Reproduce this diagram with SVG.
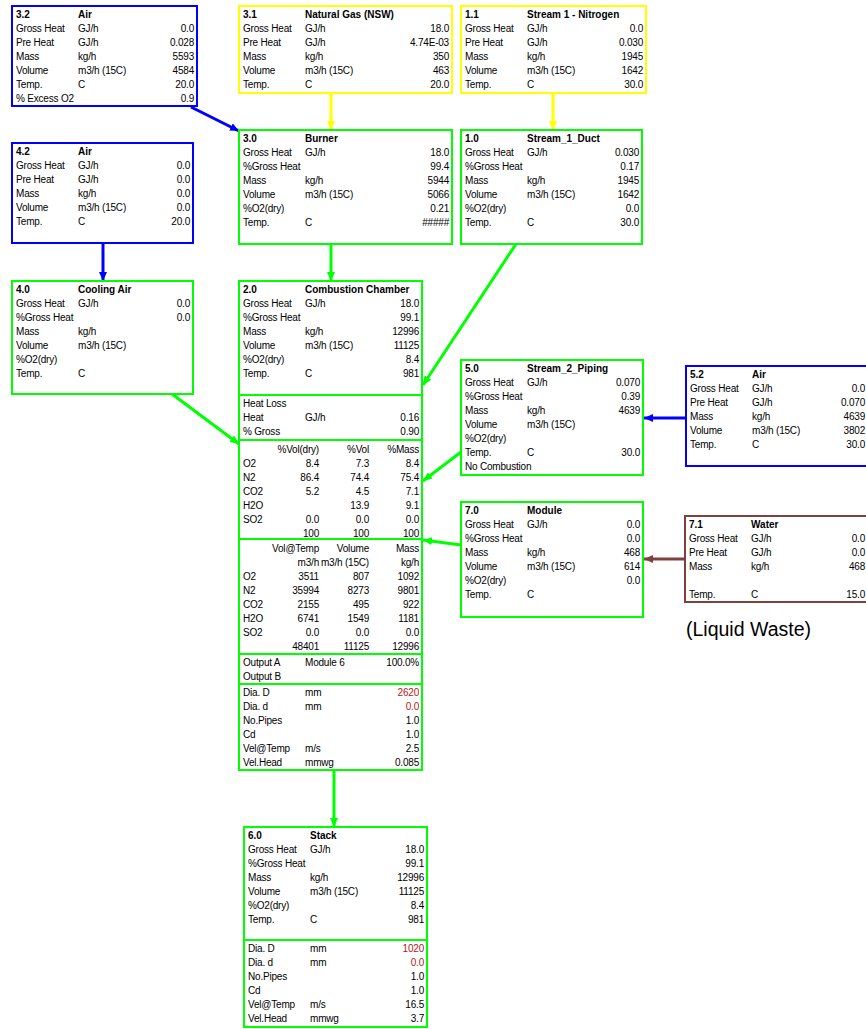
<svg xmlns="http://www.w3.org/2000/svg" width="866" height="1029" viewBox="0 0 866 1029">
<style>
text{font-family:"Liberation Sans",Arial,sans-serif;font-size:10px;fill:#000;letter-spacing:-0.2px}
.h{font-weight:bold;letter-spacing:0}
.e{text-anchor:end}
.rd{fill:#b02020}
.bx{fill:#fff;stroke-width:2}
.g{stroke:#00ff00}.bl{stroke:#0000ff}.y{stroke:#ffff00}.br{stroke:#804040}
.dv{stroke:#00ff00;stroke-width:2}
.c{fill:none;stroke-width:3}
.lw{font-size:19.5px;letter-spacing:0}
</style>
<defs>
<marker id="ag" markerWidth="9" markerHeight="8" refX="9" refY="4" orient="auto" markerUnits="userSpaceOnUse"><path d="M0,0 L9,4 L0,8 z" fill="#00ff00"/></marker>
<marker id="ab" markerWidth="9" markerHeight="8" refX="9" refY="4" orient="auto" markerUnits="userSpaceOnUse"><path d="M0,0 L9,4 L0,8 z" fill="#0000ff"/></marker>
<marker id="ay" markerWidth="9" markerHeight="8" refX="9" refY="4" orient="auto" markerUnits="userSpaceOnUse"><path d="M0,0 L9,4 L0,8 z" fill="#ffff00"/></marker>
<marker id="ar" markerWidth="9" markerHeight="8" refX="9" refY="4" orient="auto" markerUnits="userSpaceOnUse"><path d="M0,0 L9,4 L0,8 z" fill="#804040"/></marker>
</defs>
<rect width="866" height="1029" fill="#fff"/>

<g id="connectors">
<line class="c" stroke="#0000ff" x1="191" y1="107" x2="239" y2="131" marker-end="url(#ab)"/>
<line class="c" stroke="#ffff00" x1="331" y1="93" x2="331" y2="130" marker-end="url(#ay)"/>
<line class="c" stroke="#ffff00" x1="553" y1="93" x2="553" y2="130" marker-end="url(#ay)"/>
<line class="c" stroke="#0000ff" x1="103" y1="243" x2="103" y2="281" marker-end="url(#ab)"/>
<line class="c" stroke="#00ff00" x1="331" y1="244" x2="331" y2="281" marker-end="url(#ag)"/>
<line class="c" stroke="#00ff00" x1="516" y1="244" x2="423" y2="385" marker-end="url(#ag)"/>
<line class="c" stroke="#00ff00" x1="172" y1="394" x2="239" y2="444" marker-end="url(#ag)"/>
<line class="c" stroke="#00ff00" x1="461" y1="452" x2="423" y2="481" marker-end="url(#ag)"/>
<line class="c" stroke="#00ff00" x1="461" y1="545" x2="423" y2="540" marker-end="url(#ag)"/>
<line class="c" stroke="#0000ff" x1="686" y1="418" x2="644" y2="418" marker-end="url(#ab)"/>
<line class="c" stroke="#804040" x1="685" y1="559" x2="644" y2="559" marker-end="url(#ar)"/>
<line class="c" stroke="#00ff00" x1="334" y1="770" x2="334" y2="827" marker-end="url(#ag)"/>
</g>

<g id="n3_2">
<rect class="bx bl" x="12" y="6" width="185" height="100"/>
<text class="h" x="16" y="18">3.2</text><text class="h" x="78" y="18">Air</text>
<text x="16" y="32">Gross Heat</text><text x="78" y="32">GJ/h</text><text class="e" x="194" y="32">0.0</text>
<text x="16" y="46">Pre Heat</text><text x="78" y="46">GJ/h</text><text class="e" x="194" y="46">0.028</text>
<text x="16" y="60">Mass</text><text x="78" y="60">kg/h</text><text class="e" x="194" y="60">5593</text>
<text x="16" y="74">Volume</text><text x="78" y="74">m3/h (15C)</text><text class="e" x="194" y="74">4584</text>
<text x="16" y="88">Temp.</text><text x="78" y="88">C</text><text class="e" x="194" y="88">20.0</text>
<text x="16" y="102">% Excess O2</text><text class="e" x="194" y="102">0.9</text>
</g>

<g id="n3_1">
<rect class="bx y" x="239" y="6" width="213" height="87"/>
<text class="h" x="243" y="18">3.1</text><text class="h" x="305" y="18">Natural Gas (NSW)</text>
<text x="243" y="32">Gross Heat</text><text x="305" y="32">GJ/h</text><text class="e" x="449" y="32">18.0</text>
<text x="243" y="46">Pre Heat</text><text x="305" y="46">GJ/h</text><text class="e" x="449" y="46">4.74E-03</text>
<text x="243" y="60">Mass</text><text x="305" y="60">kg/h</text><text class="e" x="449" y="60">350</text>
<text x="243" y="74">Volume</text><text x="305" y="74">m3/h (15C)</text><text class="e" x="449" y="74">463</text>
<text x="243" y="88">Temp.</text><text x="305" y="88">C</text><text class="e" x="449" y="88">20.0</text>
</g>

<g id="n1_1">
<rect class="bx y" x="461" y="6" width="185" height="87"/>
<text class="h" x="465" y="18">1.1</text><text class="h" x="527" y="18">Stream 1 - Nitrogen</text>
<text x="465" y="32">Gross Heat</text><text x="527" y="32">GJ/h</text><text class="e" x="643" y="32">0.0</text>
<text x="465" y="46">Pre Heat</text><text x="527" y="46">GJ/h</text><text class="e" x="643" y="46">0.030</text>
<text x="465" y="60">Mass</text><text x="527" y="60">kg/h</text><text class="e" x="643" y="60">1945</text>
<text x="465" y="74">Volume</text><text x="527" y="74">m3/h (15C)</text><text class="e" x="643" y="74">1642</text>
<text x="465" y="88">Temp.</text><text x="527" y="88">C</text><text class="e" x="643" y="88">30.0</text>
</g>

<g id="n4_2">
<rect class="bx bl" x="12" y="143" width="181" height="100"/>
<text class="h" x="16" y="155">4.2</text><text class="h" x="78" y="155">Air</text>
<text x="16" y="169">Gross Heat</text><text x="78" y="169">GJ/h</text><text class="e" x="190" y="169">0.0</text>
<text x="16" y="183">Pre Heat</text><text x="78" y="183">GJ/h</text><text class="e" x="190" y="183">0.0</text>
<text x="16" y="197">Mass</text><text x="78" y="197">kg/h</text><text class="e" x="190" y="197">0.0</text>
<text x="16" y="211">Volume</text><text x="78" y="211">m3/h (15C)</text><text class="e" x="190" y="211">0.0</text>
<text x="16" y="225">Temp.</text><text x="78" y="225">C</text><text class="e" x="190" y="225">20.0</text>
</g>

<g id="n3_0">
<rect class="bx g" x="239" y="130" width="213" height="114"/>
<text class="h" x="243" y="142">3.0</text><text class="h" x="305" y="142">Burner</text>
<text x="243" y="156">Gross Heat</text><text x="305" y="156">GJ/h</text><text class="e" x="449" y="156">18.0</text>
<text x="243" y="170">%Gross Heat</text><text class="e" x="449" y="170">99.4</text>
<text x="243" y="184">Mass</text><text x="305" y="184">kg/h</text><text class="e" x="449" y="184">5944</text>
<text x="243" y="198">Volume</text><text x="305" y="198">m3/h (15C)</text><text class="e" x="449" y="198">5066</text>
<text x="243" y="212">%O2(dry)</text><text class="e" x="449" y="212">0.21</text>
<text x="243" y="226">Temp.</text><text x="305" y="226">C</text><text class="e" x="449" y="226">#####</text>
</g>

<g id="n1_0">
<rect class="bx g" x="461" y="130" width="181" height="114"/>
<text class="h" x="465" y="142">1.0</text><text class="h" x="527" y="142">Stream_1_Duct</text>
<text x="465" y="156">Gross Heat</text><text x="527" y="156">GJ/h</text><text class="e" x="639" y="156">0.030</text>
<text x="465" y="170">%Gross Heat</text><text class="e" x="639" y="170">0.17</text>
<text x="465" y="184">Mass</text><text x="527" y="184">kg/h</text><text class="e" x="639" y="184">1945</text>
<text x="465" y="198">Volume</text><text x="527" y="198">m3/h (15C)</text><text class="e" x="639" y="198">1642</text>
<text x="465" y="212">%O2(dry)</text><text class="e" x="639" y="212">0.0</text>
<text x="465" y="226">Temp.</text><text x="527" y="226">C</text><text class="e" x="639" y="226">30.0</text>
</g>

<g id="n4_0">
<rect class="bx g" x="12" y="281" width="181" height="113"/>
<text class="h" x="16" y="293">4.0</text><text class="h" x="78" y="293">Cooling Air</text>
<text x="16" y="307">Gross Heat</text><text x="78" y="307">GJ/h</text><text class="e" x="190" y="307">0.0</text>
<text x="16" y="321">%Gross Heat</text><text class="e" x="190" y="321">0.0</text>
<text x="16" y="335">Mass</text><text x="78" y="335">kg/h</text>
<text x="16" y="349">Volume</text><text x="78" y="349">m3/h (15C)</text>
<text x="16" y="363">%O2(dry)</text>
<text x="16" y="377">Temp.</text><text x="78" y="377">C</text>
</g>

<g id="n2_0">
<rect class="bx g" x="239" y="281" width="183" height="489"/>
<line class="dv" x1="239" y1="395" x2="422" y2="395"/>
<line class="dv" x1="239" y1="440" x2="422" y2="440"/>
<line class="dv" x1="239" y1="539" x2="422" y2="539"/>
<line class="dv" x1="239" y1="654" x2="422" y2="654"/>
<line class="dv" x1="239" y1="684" x2="422" y2="684"/>
<text class="h" x="243" y="293">2.0</text><text class="h" x="305" y="293">Combustion Chamber</text>
<text x="243" y="307">Gross Heat</text><text x="305" y="307">GJ/h</text><text class="e" x="419" y="307">18.0</text>
<text x="243" y="321">%Gross Heat</text><text class="e" x="419" y="321">99.1</text>
<text x="243" y="335">Mass</text><text x="305" y="335">kg/h</text><text class="e" x="419" y="335">12996</text>
<text x="243" y="349">Volume</text><text x="305" y="349">m3/h (15C)</text><text class="e" x="419" y="349">11125</text>
<text x="243" y="363">%O2(dry)</text><text class="e" x="419" y="363">8.4</text>
<text x="243" y="377">Temp.</text><text x="305" y="377">C</text><text class="e" x="419" y="377">981</text>
<text x="243" y="407">Heat Loss</text>
<text x="243" y="421">Heat</text><text x="305" y="421">GJ/h</text><text class="e" x="419" y="421">0.16</text>
<text x="243" y="435">% Gross</text><text class="e" x="419" y="435">0.90</text>
<text class="e" x="319" y="453">%Vol(dry)</text><text class="e" x="369" y="453">%Vol</text><text class="e" x="419" y="453">%Mass</text>
<text x="243" y="467">O2</text><text class="e" x="319" y="467">8.4</text><text class="e" x="369" y="467">7.3</text><text class="e" x="419" y="467">8.4</text>
<text x="243" y="481">N2</text><text class="e" x="319" y="481">86.4</text><text class="e" x="369" y="481">74.4</text><text class="e" x="419" y="481">75.4</text>
<text x="243" y="495">CO2</text><text class="e" x="319" y="495">5.2</text><text class="e" x="369" y="495">4.5</text><text class="e" x="419" y="495">7.1</text>
<text x="243" y="509">H2O</text><text class="e" x="369" y="509">13.9</text><text class="e" x="419" y="509">9.1</text>
<text x="243" y="523">SO2</text><text class="e" x="319" y="523">0.0</text><text class="e" x="369" y="523">0.0</text><text class="e" x="419" y="523">0.0</text>
<text class="e" x="319" y="537">100</text><text class="e" x="369" y="537">100</text><text class="e" x="419" y="537">100</text>
<text class="e" x="319" y="552">Vol@Temp</text><text class="e" x="369" y="552">Volume</text><text class="e" x="419" y="552">Mass</text>
<text class="e" x="319" y="566">m3/h</text><text class="e" x="369" y="566">m3/h (15C)</text><text class="e" x="419" y="566">kg/h</text>
<text x="243" y="580">O2</text><text class="e" x="319" y="580">3511</text><text class="e" x="369" y="580">807</text><text class="e" x="419" y="580">1092</text>
<text x="243" y="594">N2</text><text class="e" x="319" y="594">35994</text><text class="e" x="369" y="594">8273</text><text class="e" x="419" y="594">9801</text>
<text x="243" y="608">CO2</text><text class="e" x="319" y="608">2155</text><text class="e" x="369" y="608">495</text><text class="e" x="419" y="608">922</text>
<text x="243" y="622">H2O</text><text class="e" x="319" y="622">6741</text><text class="e" x="369" y="622">1549</text><text class="e" x="419" y="622">1181</text>
<text x="243" y="636">SO2</text><text class="e" x="319" y="636">0.0</text><text class="e" x="369" y="636">0.0</text><text class="e" x="419" y="636">0.0</text>
<text class="e" x="319" y="650">48401</text><text class="e" x="369" y="650">11125</text><text class="e" x="419" y="650">12996</text>
<text x="243" y="666">Output A</text><text x="305" y="666">Module 6</text><text class="e" x="419" y="666">100.0%</text>
<text x="243" y="680">Output B</text>
<text x="243" y="696">Dia. D</text><text x="305" y="696">mm</text><text class="e rd" x="419" y="696">2620</text>
<text x="243" y="710">Dia. d</text><text x="305" y="710">mm</text><text class="e rd" x="419" y="710">0.0</text>
<text x="243" y="724">No.Pipes</text><text class="e" x="419" y="724">1.0</text>
<text x="243" y="738">Cd</text><text class="e" x="419" y="738">1.0</text>
<text x="243" y="752">Vel@Temp</text><text x="305" y="752">m/s</text><text class="e" x="419" y="752">2.5</text>
<text x="243" y="766">Vel.Head</text><text x="305" y="766">mmwg</text><text class="e" x="419" y="766">0.085</text>
</g>

<g id="n5_0">
<rect class="bx g" x="461" y="360" width="182" height="115"/>
<text class="h" x="465" y="372">5.0</text><text class="h" x="527" y="372">Stream_2_Piping</text>
<text x="465" y="386">Gross Heat</text><text x="527" y="386">GJ/h</text><text class="e" x="640" y="386">0.070</text>
<text x="465" y="400">%Gross Heat</text><text class="e" x="640" y="400">0.39</text>
<text x="465" y="414">Mass</text><text x="527" y="414">kg/h</text><text class="e" x="640" y="414">4639</text>
<text x="465" y="428">Volume</text><text x="527" y="428">m3/h (15C)</text>
<text x="465" y="442">%O2(dry)</text>
<text x="465" y="456">Temp.</text><text x="527" y="456">C</text><text class="e" x="640" y="456">30.0</text>
<text x="465" y="470">No Combustion</text>
</g>

<g id="n5_2">
<rect class="bx bl" x="686" y="366" width="184" height="100"/>
<text class="h" x="690" y="378">5.2</text><text class="h" x="752" y="378">Air</text>
<text x="690" y="392">Gross Heat</text><text x="752" y="392">GJ/h</text><text class="e" x="865" y="392">0.0</text>
<text x="690" y="406">Pre Heat</text><text x="752" y="406">GJ/h</text><text class="e" x="865" y="406">0.070</text>
<text x="690" y="420">Mass</text><text x="752" y="420">kg/h</text><text class="e" x="865" y="420">4639</text>
<text x="690" y="434">Volume</text><text x="752" y="434">m3/h (15C)</text><text class="e" x="865" y="434">3802</text>
<text x="690" y="448">Temp.</text><text x="752" y="448">C</text><text class="e" x="865" y="448">30.0</text>
</g>

<g id="n7_0">
<rect class="bx g" x="461" y="502" width="182" height="115"/>
<text class="h" x="465" y="514">7.0</text><text class="h" x="527" y="514">Module</text>
<text x="465" y="528">Gross Heat</text><text x="527" y="528">GJ/h</text><text class="e" x="640" y="528">0.0</text>
<text x="465" y="542">%Gross Heat</text><text class="e" x="640" y="542">0.0</text>
<text x="465" y="556">Mass</text><text x="527" y="556">kg/h</text><text class="e" x="640" y="556">468</text>
<text x="465" y="570">Volume</text><text x="527" y="570">m3/h (15C)</text><text class="e" x="640" y="570">614</text>
<text x="465" y="584">%O2(dry)</text><text class="e" x="640" y="584">0.0</text>
<text x="465" y="598">Temp.</text><text x="527" y="598">C</text>
</g>

<g id="n7_1">
<rect class="bx br" x="685" y="516" width="185" height="86"/>
<text class="h" x="689" y="528">7.1</text><text class="h" x="751" y="528">Water</text>
<text x="689" y="542">Gross Heat</text><text x="751" y="542">GJ/h</text><text class="e" x="865" y="542">0.0</text>
<text x="689" y="556">Pre Heat</text><text x="751" y="556">GJ/h</text><text class="e" x="865" y="556">0.0</text>
<text x="689" y="570">Mass</text><text x="751" y="570">kg/h</text><text class="e" x="865" y="570">468</text>
<text x="689" y="598">Temp.</text><text x="751" y="598">C</text><text class="e" x="865" y="598">15.0</text>
</g>

<g id="liquid_waste">
<text class="lw" x="686" y="636">(Liquid Waste)</text>
</g>

<g id="n6_0">
<rect class="bx g" x="244" y="827" width="183" height="200"/>
<line class="dv" x1="244" y1="940" x2="427" y2="940"/>
<text class="h" x="248" y="839">6.0</text><text class="h" x="310" y="839">Stack</text>
<text x="248" y="853">Gross Heat</text><text x="310" y="853">GJ/h</text><text class="e" x="424" y="853">18.0</text>
<text x="248" y="867">%Gross Heat</text><text class="e" x="424" y="867">99.1</text>
<text x="248" y="881">Mass</text><text x="310" y="881">kg/h</text><text class="e" x="424" y="881">12996</text>
<text x="248" y="895">Volume</text><text x="310" y="895">m3/h (15C)</text><text class="e" x="424" y="895">11125</text>
<text x="248" y="909">%O2(dry)</text><text class="e" x="424" y="909">8.4</text>
<text x="248" y="923">Temp.</text><text x="310" y="923">C</text><text class="e" x="424" y="923">981</text>
<text x="248" y="952">Dia. D</text><text x="310" y="952">mm</text><text class="e rd" x="424" y="952">1020</text>
<text x="248" y="966">Dia. d</text><text x="310" y="966">mm</text><text class="e rd" x="424" y="966">0.0</text>
<text x="248" y="980">No.Pipes</text><text class="e" x="424" y="980">1.0</text>
<text x="248" y="994">Cd</text><text class="e" x="424" y="994">1.0</text>
<text x="248" y="1008">Vel@Temp</text><text x="310" y="1008">m/s</text><text class="e" x="424" y="1008">16.5</text>
<text x="248" y="1022">Vel.Head</text><text x="310" y="1022">mmwg</text><text class="e" x="424" y="1022">3.7</text>
</g>
</svg>
